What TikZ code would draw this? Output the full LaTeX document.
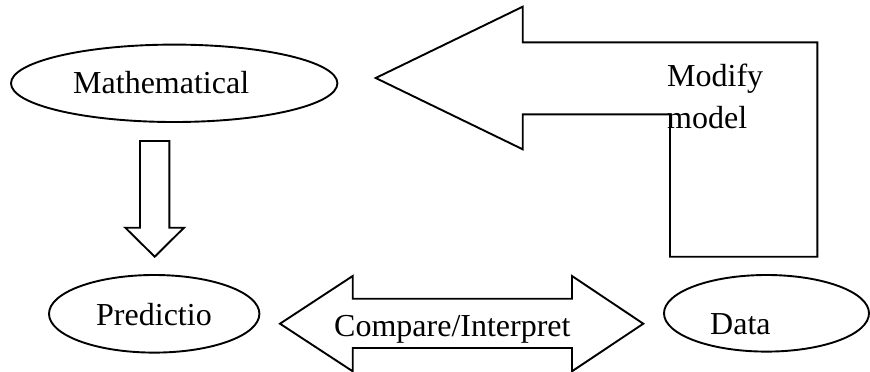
\documentclass[tikz,border=0pt]{standalone}
\usepackage{fontspec}
\setmainfont{Liberation Serif}
\usetikzlibrary{shapes.geometric}
\tikzset{
  outline/.style={draw=black, line width=1.9pt, line join=miter},
  oval/.style={outline, ellipse, inner sep=0pt},
  label text/.style={anchor=base west, inner sep=0pt, font=\fontsize{32}{42}\selectfont}
}
\begin{document}
\begin{tikzpicture}[x=1pt, y=-1pt]
\useasboundingbox (0,0) rectangle (870,372);
% ellipses
\node[oval, minimum width=326.4pt, minimum height=77.4pt] (math) at (174.2,83.3) {};
\node[oval, minimum width=210.4pt, minimum height=77.6pt] (pred) at (154.2,313.8) {};
\node[oval, minimum width=205pt, minimum height=76.6pt] (data) at (766.5,313.3) {};
% texts
\node[label text] (mathtxt) at (73,93.3) {Mathematical};
\node[label text] (predtxt) at (96,325) {Predictio};
\node[label text] (datatxt) at (710,334) {Data};
% down block arrow
\draw[outline] (140,141) -- (169.3,141) -- (169.3,227.7) -- (184,227.7)
  -- (154.7,256.7) -- (125.3,227.7) -- (140,227.7) -- cycle;
% bent block arrow (modify model)
\draw[outline] (375.7,78) -- (522.7,6.7) -- (522.7,42.3) -- (817.3,42.3)
  -- (817.3,256.7) -- (670,256.7) -- (670,114.3) -- (522.7,114.3)
  -- (522.7,149.3) -- cycle;
\node[label text] (modtxt) at (667,86.5) {Modify};
\node[label text] (modtxt2) at (667,128.5) {model};
% double block arrow
\draw[outline] (280,323.7) -- (352.7,276) -- (352.7,298.7) -- (572,298.7)
  -- (572,276) -- (643.3,323.7) -- (572,371.3) -- (572,348)
  -- (352.7,348) -- (352.7,371.3) -- cycle;
\node[label text] (comptxt) at (334,336) {Compare/Interpret};
\end{tikzpicture}
\end{document}
